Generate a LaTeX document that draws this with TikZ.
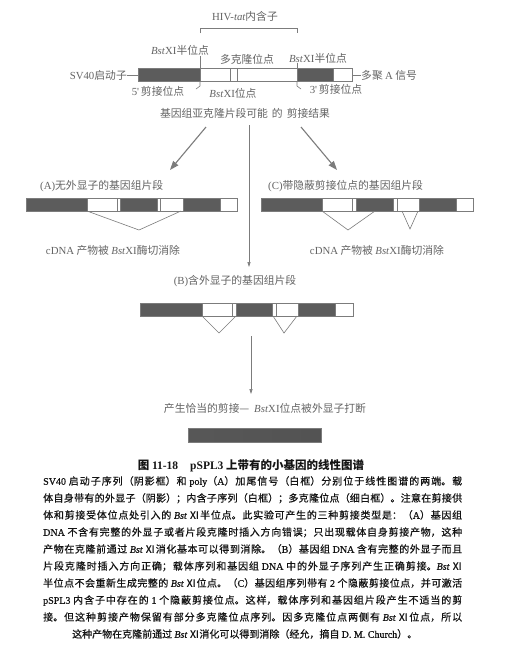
\documentclass[tikz,border=0pt]{standalone}
\usepackage{fontspec}
\setmainfont{Noto Sans CJK SC}
\newfontfamily\bodyf{Noto Sans CJK SC}[FakeBold=0.6]
\newfontfamily\lt{Liberation Serif}
\newfontfamily\ltb{Liberation Serif}[FakeBold=0.6]
\usetikzlibrary{arrows.meta}
\XeTeXlinebreaklocale "zh"
\XeTeXlinebreakskip=0pt plus 2pt
\definecolor{ink}{HTML}{646464}
\definecolor{exon}{HTML}{5C5C5C}
\definecolor{edge}{HTML}{7C7C7C}
\definecolor{body}{HTML}{141414}
\newcommand\bstxi{{\lt\itshape Bst\/}{\lt XI}}
\newcommand\bstr{{\lt\itshape Bst} Ⅺ}
\begin{document}
\begin{tikzpicture}[x=1pt,y=-1pt,
  lbl/.style={font=\fontsize{10.8pt}{12pt}\selectfont, text=ink, inner sep=0pt},
  ex/.style={fill=exon, draw=edge, line width=0.5pt},
  intr/.style={fill=white, draw=edge, line width=0.5pt},
  conn/.style={draw=edge, line width=0.6pt},
  bigarrow/.style={draw=edge, line width=1.1pt, -{Triangle[length=9pt,width=6.5pt]}},
  thinarrow/.style={draw=edge, line width=0.6pt, -{Triangle[length=5pt,width=3pt]}},
]
\useasboundingbox (0,0) rectangle (507,654);
\fill[white] (0,0) rectangle (507,654);

% ---------- top map ----------
\node[lbl] (hiv) at (245,16) {{\lt HIV-}{\lt\itshape tat}内含子};
\coordinate (brl) at (200,33); \coordinate (brr) at (297,33);
\draw[conn] (brl) -- ++(0,-5) -| (brr);
\node[lbl] (bhl) at (180,50) {\bstxi 半位点};
\node[lbl] (mcs) at (247,59) {多克隆位点};
\node[lbl] (bhr) at (318,58) {\bstxi 半位点};

\draw[ex]   (138,68) rectangle (200,81);
\draw[intr] (200,68) rectangle (297,81);
\draw[conn] (230,68) -- (230,81) (237,68) -- (237,81);
\draw[ex]   (297,68) rectangle (333,81);
\draw[intr] (333,68) rectangle (352,81);

\node[lbl, anchor=east] (sv) at (127,75) {{\lt SV40}启动子};
\coordinate (svend) at (138,75);
\draw[conn] (sv.east) -- (svend);
\node[lbl, anchor=west] (pa) at (361,75) {多聚 {\lt A} 信号};
\coordinate (paend) at (352,75);
\draw[conn] (paend) -- (pa.west);

\coordinate (hl1) at (200,56); \coordinate (hl2) at (200,68);
\draw[conn] (hl1) -- (hl2);
\coordinate (hr1) at (297,63); \coordinate (hr2) at (297,68);
\draw[conn] (hr1) -- (hr2);

\node[lbl] (ss5) at (158,91) {{\lt 5'\,}剪接位点};
\node[lbl] (ss3) at (336,89) {{\lt 3'\,}剪接位点};
\coordinate (h5) at (200,81); \coordinate (h3) at (297,81);
\draw[conn] (h5) -- ++(0,5) -- ++(-4,3);
\draw[conn] (h3) -- ++(0,5) -- ++(4,3);
\node[lbl] (bsite) at (233,93) {\bstxi 位点};

\node[lbl] (res) at (245,113) {基因组亚克隆片段可能\hspace{4pt}的\hspace{4pt}剪接结果};

% ---------- arrows ----------
\coordinate (aLs) at (206,127); \coordinate (aLe) at (170,170);
\coordinate (aCs) at (249,125); \coordinate (aCe) at (249,267);
\coordinate (aRs) at (301,127); \coordinate (aRe) at (337,170);
\draw[bigarrow] (aLs) -- (aLe);
\draw[bigarrow] (aRs) -- (aRe);
\draw[thinarrow] (aCs) -- (aCe);

% ---------- (A) ----------
\node[lbl, anchor=west] (la) at (40,186) {{\lt (A)}无外显子的基因组片段};
\draw[ex]   (26,198) rectangle (87,211);
\draw[intr] (87,198) rectangle (117,211);
\draw[intr] (117,198) rectangle (120,211);
\draw[ex]   (120,198) rectangle (157,211);
\draw[intr] (157,198) rectangle (160,211);
\draw[intr] (160,198) rectangle (183,211);
\draw[ex]   (183,198) rectangle (220,211);
\draw[intr] (220,198) rectangle (237,211);
\coordinate (va1) at (87,211); \coordinate (va2) at (139,230); \coordinate (va3) at (181,211);
\draw[conn] (va1) -- (va2) -- (va3);
\node[lbl] (cda) at (113,250) {{\lt cDNA} 产物被 \bstxi 酶切消除};

% ---------- (C) ----------
\node[lbl, anchor=west] (lc) at (268,186) {{\lt (C)}带隐蔽剪接位点的基因组片段};
\draw[ex]   (261,198) rectangle (322,211);
\draw[intr] (322,198) rectangle (352,211);
\draw[intr] (352,198) rectangle (356,211);
\draw[ex]   (356,198) rectangle (393,211);
\draw[intr] (393,198) rectangle (397,211);
\draw[intr] (397,198) rectangle (419,211);
\draw[ex]   (419,198) rectangle (456,211);
\draw[intr] (456,198) rectangle (473,211);
\coordinate (vc1) at (322,211); \coordinate (vc2) at (348,230); \coordinate (vc3) at (375,211);
\draw[conn] (vc1) -- (vc2) -- (vc3);
\coordinate (vc4) at (402,211); \coordinate (vc5) at (410,229); \coordinate (vc6) at (418,211);
\draw[conn] (vc4) -- (vc5) -- (vc6);
\node[lbl] (cdc) at (377,250) {{\lt cDNA} 产物被 \bstxi 酶切消除};

% ---------- (B) ----------
\node[lbl] (lb) at (235,281) {{\lt (B)}含外显子的基因组片段};
\draw[ex]   (140,303) rectangle (202,316);
\draw[intr] (202,303) rectangle (232,316);
\draw[intr] (232,303) rectangle (236,316);
\draw[ex]   (236,303) rectangle (272,316);
\draw[intr] (272,303) rectangle (276,316);
\draw[intr] (276,303) rectangle (298,316);
\draw[ex]   (298,303) rectangle (335,316);
\draw[intr] (335,303) rectangle (353,316);
\coordinate (vb1) at (202,316); \coordinate (vb2) at (219,333); \coordinate (vb3) at (236,316);
\draw[conn] (vb1) -- (vb2) -- (vb3);
\coordinate (vb4) at (273,316); \coordinate (vb5) at (284,333); \coordinate (vb6) at (297,316);
\draw[conn] (vb4) -- (vb5) -- (vb6);

\coordinate (aBs) at (251,336); \coordinate (aBe) at (251,394);
\draw[thinarrow] (aBs) -- (aBe);
\node[lbl] (prop) at (265,408) {产生恰当的剪接—\hspace{5pt}\bstxi 位点被外显子打断};
\shade[left color=exon!95!black, middle color=exon!80, right color=exon!90!black, draw=edge, line width=0.5pt]
  (188,428) rectangle (321,442);

% ---------- caption ----------
\node[inner sep=0pt, text=body, font=\fontsize{11.5pt}{13pt}\selectfont\bfseries] (cap) at (251,466)
  {图 {\lt 11-18}\hspace{12pt}{\lt pSPL3} 上带有的小基因的线性图谱};
\node[inner sep=0pt, anchor=north west, text width=419pt, align=justify, text=body,
      font=\fontsize{10pt}{17pt}\selectfont\bodyf\let\lt\ltb] (para) at (43,476) {%
{\lt SV40} 启动子序列（阴影框）和 {\lt poly}（{\lt A}）加尾信号（白框）分别位于线性图谱的两端。载\linebreak
体自身带有的外显子（阴影）；内含子序列（白框）；多克隆位点（细白框）。注意在剪接供\linebreak
体和剪接受体位点处引入的 \bstr 半位点。此实验可产生的三种剪接类型是：（{\lt A}）基因组\linebreak
{\lt DNA} 不含有完整的外显子或者片段克隆时插入方向错误；只出现载体自身剪接产物，这种\linebreak
产物在克隆前通过 \bstr 消化基本可以得到消除。（{\lt B}）基因组 {\lt DNA} 含有完整的外显子而且\linebreak
片段克隆时插入方向正确；载体序列和基因组 {\lt DNA} 中的外显子序列产生正确剪接。\bstr\linebreak
半位点不会重新生成完整的 \bstr 位点。（{\lt C}）基因组序列带有 {\lt 2} 个隐蔽剪接位点，并可激活\linebreak
{\lt pSPL3} 内含子中存在的 {\lt 1} 个隐蔽剪接位点。这样，载体序列和基因组片段产生不适当的剪\linebreak
接。但这种剪接产物保留有部分多克隆位点序列。因多克隆位点两侧有 \bstr 位点，所以\linebreak
\hspace*{29pt}这种产物在克隆前通过 \bstr 消化可以得到消除（经允，摘自 {\lt D. M. Church}）。};
\end{tikzpicture}
\end{document}
